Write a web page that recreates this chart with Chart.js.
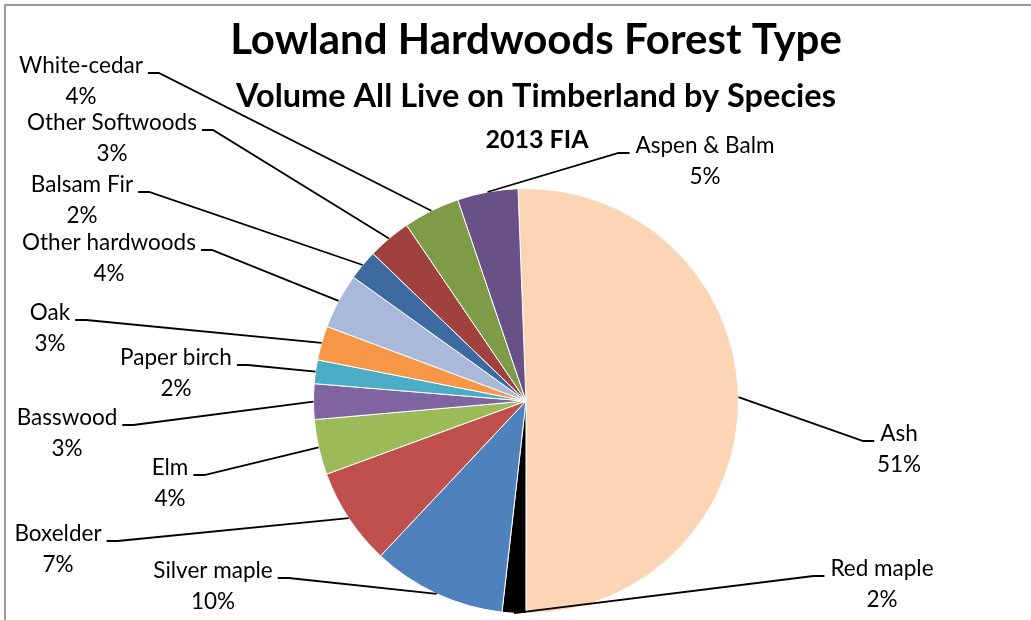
<!DOCTYPE html>
<html><head><meta charset="utf-8">
<script src="https://cdn.jsdelivr.net/npm/chart.js@4.4.1/dist/chart.umd.min.js"></script>
<style>
html,body{margin:0;padding:0;background:#fff;overflow:hidden;}
#wrap{position:relative;width:1031px;height:620px;}
#frame{position:absolute;left:4px;top:4px;width:1100px;height:700px;border:2px solid #9a9a9a;box-sizing:border-box;}
canvas{position:absolute;left:0;top:0;}
</style></head><body>
<div id="wrap"><div id="frame"></div><canvas id="c" width="1031" height="620"></canvas></div>
<script>
const categories = ["Ash","Red maple","Silver maple","Boxelder","Elm","Basswood","Paper birch","Oak","Other hardwoods","Balsam Fir","Other Softwoods","White-cedar","Aspen & Balm"];
const volumeShare = [50.6, 1.8, 10.2, 7.4, 4.2, 2.7, 1.8, 2.6, 4.2, 2.3, 3.3, 4.3, 4.6];
const sliceColors = ["#FCD5B5","#000000","#4F81BD","#C0504D","#9BBB59","#8064A2","#4BACC6","#F79646","#AAB9DA","#3D6AA0","#A0413E","#7E9B48","#695087"];
const titleLines = ["Lowland Hardwoods Forest Type","Volume All Live on Timberland by Species","2013 FIA"];

// label placement (centre of the category-name line, and which side the leader attaches)
const labelLayout = [
  {x:899,y:434,side:'left'},
  {x:882,y:569,side:'left'},
  {x:213,y:571,side:'right'},
  {x:58,y:534,side:'right'},
  {x:170,y:468,side:'right'},
  {x:67,y:418,side:'right'},
  {x:176,y:358,side:'right'},
  {x:50,y:313,side:'right'},
  {x:109,y:243,side:'right'},
  {x:82,y:185,side:'right'},
  {x:112,y:123,side:'right'},
  {x:81,y:66,side:'right'},
  {x:705,y:146,side:'left'}
];
const titleLayout = [
  {x:536,y:40,font:"bold 42px Lato"},
  {x:536,y:97,font:"bold 32.5px Lato"},
  {x:537,y:140,font:"bold 25px Lato"}
];
const LABEL_FONT = "22.5px Lato";

const outerLabels = {
  id:'outerLabels',
  afterDatasetsDraw(chart){
    const ctx = chart.ctx;
    const meta = chart.getDatasetMeta(0);
    const data = chart.data.datasets[0].data;
    const total = data.reduce((a,b)=>a+b,0);
    ctx.save();
    ctx.font = LABEL_FONT;
    ctx.fillStyle = "#000";
    ctx.strokeStyle = "#000";
    ctx.lineWidth = 1.8;
    ctx.textAlign = "center";
    ctx.textBaseline = "middle";
    meta.data.forEach((arc,i)=>{
      const p = arc.getProps(['x','y','startAngle','endAngle','outerRadius'], true);
      const mid = (p.startAngle + p.endAngle)/2;
      const px = p.x + Math.cos(mid)*p.outerRadius;
      const py = p.y + Math.sin(mid)*p.outerRadius;
      const L = labelLayout[i];
      const name = chart.data.labels[i];
      const w = ctx.measureText(name).width;
      const ly = L.y + 7;
      let s, e;
      if (L.side === 'right'){ s = L.x + w/2 + 5; e = s + 11; }
      else { s = L.x - w/2 - 6; e = s - 11; }
      ctx.beginPath();
      ctx.moveTo(s, ly); ctx.lineTo(e, ly); ctx.lineTo(px, py);
      ctx.stroke();
      ctx.fillText(name, L.x, L.y);
      ctx.fillText(Math.round(data[i]/total*100) + "%", L.x, L.y + 31);
    });
    ctx.restore();
  },
  afterDraw(chart){
    const ctx = chart.ctx;
    ctx.save();
    ctx.fillStyle = "#000";
    ctx.textAlign = "center";
    ctx.textBaseline = "middle";
    titleLines.forEach((t,i)=>{
      ctx.font = titleLayout[i].font;
      ctx.fillText(t, titleLayout[i].x, titleLayout[i].y);
    });
    ctx.restore();
  }
};

new Chart(document.getElementById('c'), {
  type:'pie',
  data:{ labels:categories, datasets:[{ data:volumeShare, backgroundColor:sliceColors, borderColor:'#ffffff', borderWidth:1 }]},
  options:{
    responsive:false, animation:false, rotation:-2.15,
    layout:{ padding:{ left:313, right:292, top:188, bottom:6 } },
    plugins:{ legend:{display:false}, tooltip:{enabled:false}, title:{display:false} }
  },
  plugins:[outerLabels]
});
</script>
</body></html>
